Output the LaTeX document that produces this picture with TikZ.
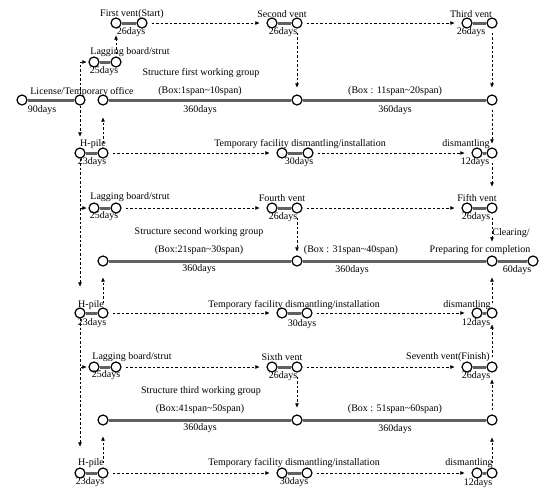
\documentclass[tikz,border=0pt]{standalone}
\usepackage{fontspec}
\setmainfont{Liberation Serif}
\usetikzlibrary{arrows.meta}

\begin{document}
\begin{tikzpicture}[x=1pt,y=-1pt,>={Triangle[length=4pt,width=3.4pt]}]
\tikzstyle{evt}=[circle,draw,line width=1.2pt,fill=white,minimum size=10pt,inner sep=0pt]
\tikzstyle{dur}=[line width=3pt,black!62]
\tikzstyle{dep}=[->,line width=0.6pt,dash pattern=on 2.5pt off 2pt,shorten <=4pt,shorten >=7pt]
\tikzstyle{lbl}=[inner sep=0pt,font=\fontsize{10}{12}\selectfont]
\useasboundingbox (0,0) rectangle (541,491);

% events
\node[evt](fv1) at (116,23) {};
\node[evt](fv2) at (142,23) {};
\node[evt](sv1) at (272,23) {};
\node[evt](sv2) at (297,23) {};
\node[evt](tv1) at (467,23) {};
\node[evt](tv2) at (492,23) {};
\node[evt](lb1a) at (94,62) {};
\node[evt](lb1b) at (116,62) {};
\node[evt](lic1) at (22,100) {};
\node[evt](lic2) at (80,100) {};
\node[evt](sf1) at (103,100) {};
\node[evt](sf2) at (297,100) {};
\node[evt](sf3) at (492,100) {};
\node[evt](hp1a) at (80,153) {};
\node[evt](hp1b) at (103,153) {};
\node[evt](tf1a) at (282,153) {};
\node[evt](tf1b) at (308,153) {};
\node[evt](dm1a) at (477,153) {};
\node[evt](dm1b) at (492,153) {};
\node[evt](lb2a) at (94,208) {};
\node[evt](lb2b) at (116,208) {};
\node[evt](fo1) at (272,208) {};
\node[evt](fo2) at (297,208) {};
\node[evt](fi1) at (467,208) {};
\node[evt](fi2) at (492,208) {};
\node[evt](ss1) at (103,261) {};
\node[evt](ss2) at (297,261) {};
\node[evt](ss3) at (492,261) {};
\node[evt](ss4) at (533,261) {};
\node[evt](hp2a) at (80,313) {};
\node[evt](hp2b) at (103,313) {};
\node[evt](tf2a) at (282,313) {};
\node[evt](tf2b) at (307,313) {};
\node[evt](dm2a) at (477,313) {};
\node[evt](dm2b) at (492,313) {};
\node[evt](lb3a) at (94,367) {};
\node[evt](lb3b) at (116,367) {};
\node[evt](sx1) at (272,367) {};
\node[evt](sx2) at (297,367) {};
\node[evt](se1) at (467,367) {};
\node[evt](se2) at (492,367) {};
\node[evt](st1) at (103,420) {};
\node[evt](st2) at (297,420) {};
\node[evt](st3) at (492,420) {};
\node[evt](hp3a) at (80,473) {};
\node[evt](hp3b) at (103,473) {};
\node[evt](tf3a) at (282,473) {};
\node[evt](tf3b) at (307,473) {};
\node[evt](dm3a) at (477,473) {};
\node[evt](dm3b) at (492,473) {};

% durations
\draw[dur] (fv1) -- (fv2);
\draw[dur] (sv1) -- (sv2);
\draw[dur] (tv1) -- (tv2);
\draw[dur] (lb1a) -- (lb1b);
\draw[dur] (lic1) -- (lic2);
\draw[dur] (sf1) -- (sf2);
\draw[dur] (sf2) -- (sf3);
\draw[dur] (hp1a) -- (hp1b);
\draw[dur] (tf1a) -- (tf1b);
\draw[dur] (dm1a) -- (dm1b);
\draw[dur] (lb2a) -- (lb2b);
\draw[dur] (fo1) -- (fo2);
\draw[dur] (fi1) -- (fi2);
\draw[dur] (ss1) -- (ss2);
\draw[dur] (ss2) -- (ss3);
\draw[dur] (ss3) -- (ss4);
\draw[dur] (hp2a) -- (hp2b);
\draw[dur] (tf2a) -- (tf2b);
\draw[dur] (dm2a) -- (dm2b);
\draw[dur] (lb3a) -- (lb3b);
\draw[dur] (sx1) -- (sx2);
\draw[dur] (se1) -- (se2);
\draw[dur] (st1) -- (st2);
\draw[dur] (st2) -- (st3);
\draw[dur] (hp3a) -- (hp3b);
\draw[dur] (tf3a) -- (tf3b);
\draw[dur] (dm3a) -- (dm3b);

% labels
\node[lbl](t-fv) at (132,14) {First vent(Start)};
\node[lbl](d-fv) at (131,32) {26days};
\node[lbl](t-sv) at (282,14) {Second vent};
\node[lbl](d-sv) at (283,32) {26days};
\node[lbl](t-tv) at (471,14) {Third vent};
\node[lbl](d-tv) at (471,32) {26days};
\node[lbl](t-lb1) at (130,52) {Lagging board/strut};
\node[lbl](d-lb1) at (104,71) {25days};
\node[lbl](t-lic) at (82,92) {License/Temporary office};
\node[lbl](d-lic) at (42,110) {90days};
\node[lbl](t-sf) at (201,73) {Structure first working group};
\node[lbl](b-sf1) at (200,91) {(Box:1span\textasciitilde10span)};
\node[lbl](d-sf1) at (200,110) {360days};
\node[lbl](b-sf2) at (395,91) {(Box : 11span\textasciitilde20span)};
\node[lbl](d-sf2) at (395,110) {360days};
\node[lbl](t-hp1) at (93,144) {H-pile};
\node[lbl](d-hp1) at (92,162) {23days};
\node[lbl](t-tf1) at (300,144) {Temporary facility dismantling/installation};
\node[lbl](d-tf1) at (299,162) {30days};
\node[lbl](t-dm1) at (466,144) {dismantling};
\node[lbl](d-dm1) at (475,162) {12days};
\node[lbl](t-lb2) at (130,197) {Lagging board/strut};
\node[lbl](d-lb2) at (104,216) {25days};
\node[lbl](t-fo) at (282,198) {Fourth vent};
\node[lbl](d-fo) at (283,217) {26days};
\node[lbl](t-fi) at (477,198) {Fifth vent};
\node[lbl](d-fi) at (476,217) {26days};
\node[lbl](t-ss) at (199,232) {Structure second working group};
\node[lbl](b-ss1) at (199,250) {(Box:21span\textasciitilde30span)};
\node[lbl](d-ss1) at (199,269) {360days};
\node[lbl](b-ss2) at (351,250) {(Box : 31span\textasciitilde40span)};
\node[lbl](d-ss2) at (352,270) {360days};
\node[lbl](t-cl) at (511,233) {Clearing/};
\node[lbl](t-pc) at (480,250) {Preparing for completion};
\node[lbl](d-pc) at (517,270) {60days};
\node[lbl](t-hp2) at (91,305) {H-pile};
\node[lbl](d-hp2) at (92,323) {23days};
\node[lbl](t-tf2) at (294,305) {Temporary facility dismantling/installation};
\node[lbl](d-tf2) at (302,324) {30days};
\node[lbl](t-dm2) at (467,305) {dismantling};
\node[lbl](d-dm2) at (476,323) {12days};
\node[lbl](t-lb3) at (132,357) {Lagging board/strut};
\node[lbl](d-lb3) at (106,375) {25days};
\node[lbl](t-sx) at (282,357) {Sixth vent};
\node[lbl](d-sx) at (283,376) {26days};
\node[lbl](t-se) at (448,357) {Seventh vent(Finish)};
\node[lbl](d-se) at (476,376) {26days};
\node[lbl](t-st) at (201,391) {Structure third working group};
\node[lbl](b-st1) at (200,409) {(Box:41span\textasciitilde50span)};
\node[lbl](d-st1) at (200,428) {360days};
\node[lbl](b-st2) at (395,409) {(Box : 51span\textasciitilde60span)};
\node[lbl](d-st2) at (395,429) {360days};
\node[lbl](t-hp3) at (91,463) {H-pile};
\node[lbl](d-hp3) at (90,482) {23days};
\node[lbl](t-tf3) at (294,463) {Temporary facility dismantling/installation};
\node[lbl](d-tf3) at (294,482) {30days};
\node[lbl](t-dm3) at (469,463) {dismantling};
\node[lbl](d-dm3) at (478,483) {12days};

% dependencies
\draw[dep] (fv2) -- (sv1);
\draw[dep] (sv2) -- (tv1);
\draw[dep] (sv2) -- (sf2);
\draw[dep] (tv2) -- (sf3);
\draw[dep,shorten <=2pt] (lb1b) -- (fv1);
\draw[dep,shorten <=0pt,shorten >=2pt] (lic2.north) |- (lb1a);
\draw[dep,shorten <=0pt,shorten >=11pt] (lic2) -- (hp1a);
\draw[dep,shorten <=0pt,shorten >=2pt] (hp1a.south) |- (lb2a);
\draw[dep,shorten <=0pt,shorten >=21pt] (hp1a) -- (hp2a);
\draw[dep,shorten >=12pt] (hp1b) -- (sf1);
\draw[dep] (hp1b) -- (tf1a);
\draw[dep] (tf1b) -- (dm1a);
\draw[dep,shorten >=4pt] (sf3) -- (dm1b);
\draw[dep,shorten >=16pt] (dm1b) -- (fi2);
\draw[dep] (lb2b) -- (fo1);
\draw[dep] (fo2) -- (fi1);
\draw[dep,shorten >=4pt] (fo2) -- (ss2);
\draw[dep,shorten >=14pt] (fi2) -- (ss3);
\draw[dep,shorten >=11pt] (hp2b) -- (ss1);
\draw[dep] (hp2b) -- (tf2a);
\draw[dep] (tf2b) -- (dm2a);
\draw[dep,shorten >=11pt] (dm2b) -- (ss3);
\draw[dep,shorten <=0pt,shorten >=2pt] (hp2a.south) |- (lb3a);
\draw[dep,shorten <=0pt,shorten >=21pt] (hp2a) -- (hp3a);
\draw[dep,shorten >=6pt] (se2) -- (dm2b);
\draw[dep] (lb3b) -- (sx1);
\draw[dep] (sx2) -- (se1);
\draw[dep] (sx2) -- (st2);
\draw[dep] (st3) -- (se2);
\draw[dep,shorten >=12pt] (dm3b) -- (st3);
\draw[dep,shorten >=11pt] (hp3b) -- (st1);
\draw[dep] (hp3b) -- (tf3a);
\draw[dep] (tf3b) -- (dm3a);
\end{tikzpicture}
\end{document}
